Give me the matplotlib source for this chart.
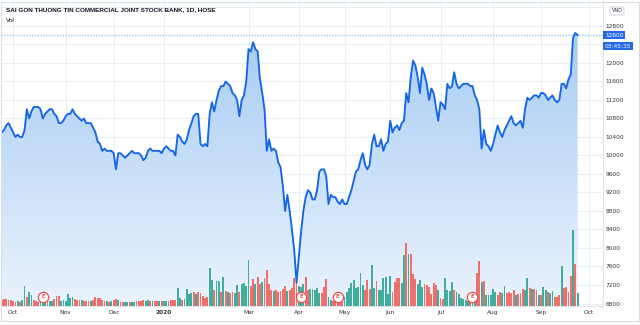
import numpy as np
import pandas as pd
import matplotlib
matplotlib.use('Agg')
import matplotlib.pyplot as plt
import matplotlib.transforms as mtrans
from matplotlib.patches import Polygon, Rectangle
from matplotlib.colors import LinearSegmentedColormap

title = 'SAI GON THUONG TIN COMMERCIAL JOINT STOCK BANK, 1D, HOSE'
first_day = '2019-09-24'
axis_end = '2020-10-01'
holidays = ['2020-01-01', '2020-01-23', '2020-01-24', '2020-01-27', '2020-01-28',
            '2020-01-29', '2020-04-02', '2020-04-30', '2020-05-01', '2020-09-02']
hidden_months = ['2020-02']
hidden_levels = [12400, 13200]   # covered by the price / currency boxes
earn_dates = ['2019-10-18', '2020-04-03', '2020-04-27', '2020-07-21']
clock = '03:45:35'

# daily close, VND
price = [
    10500, 10550, 10650, 10700, 10600, 10500, 10400, 10450, 10400, 10400,
    10550, 11000, 10800, 10950, 11050, 11050, 11050, 11000, 10800, 10900,
    10950, 11000, 11000, 10900, 10850, 10700, 10700, 10750, 10850, 10900,
    10900, 11000, 10900, 10850, 10800, 10750, 10800, 10700, 10700, 10700,
    10600, 10500, 10300, 10250, 10100, 10150, 10100, 10100, 10100, 10050,
    9700, 10050, 10050, 10000, 9950, 10000, 10050, 10100, 10050, 10050,
    10050, 10000, 9900, 9950, 10100, 10150, 10100, 10100, 10100, 10100,
    10050, 10150, 10200, 10150, 10100, 10100, 10000, 10450, 10400, 10300,
    10250, 10350, 10550, 10700, 10850, 10900, 10900, 10250, 10200, 10250,
    10200, 10900, 11150, 10950, 11200, 11400, 11500, 11500, 11600, 11550,
    11500, 11350, 11300, 11200, 10850, 11200, 11300, 11600, 12300, 12250,
    12450, 12300, 12250, 11650, 11350, 11000, 10100, 10350, 10100, 10150,
    10100, 9850, 9750, 9350, 8800, 9150, 8800, 8400, 7950, 7250,
    7800, 8350, 8800, 9100, 9250, 9200, 9050, 9050, 9250, 9650,
    9700, 9700, 9550, 8950, 9150, 9100, 9100, 9000, 8950, 9050,
    8950, 8950, 9100, 9250, 9450, 9650, 9700, 9900, 10050, 9800,
    9700, 9800, 10250, 10450, 10200, 10200, 10350, 10100, 10250, 10300,
    10750, 10500, 10600, 10650, 10550, 10700, 10750, 11350, 11150, 11700,
    12050, 11950, 11700, 11350, 11900, 11750, 11550, 11200, 11450, 11350,
    11050, 10750, 11150, 11100, 11000, 11550, 11450, 11500, 11800, 11550,
    11450, 11500, 11550, 11550, 11550, 11500, 11500, 11300, 11200, 11000,
    10150, 10550, 10250, 10200, 10100, 10250, 10450, 10650, 10500, 10400,
    10550, 10650, 10750, 10850, 10700, 10650, 10700, 10750, 10600, 11000,
    11250, 11200, 11250, 11300, 11300, 11250, 11350, 11350, 11300, 11200,
    11250, 11300, 11200, 11150, 11200, 11550, 11550, 11450, 11650, 11750,
    12550, 12650, 12600,
]

# volume, million shares
vol = [
    6, 7, 7, 6, 6, 5, 4, 5, 4, 6,
    20, 9, 14, 11, 6, 5, 4, 4, 5, 4,
    4, 5, 5, 7, 10, 10, 5, 6, 5, 12,
    8, 9, 7, 6, 6, 6, 5, 5, 5, 5,
    6, 9, 8, 8, 6, 5, 5, 4, 5, 6,
    7, 6, 4, 4, 4, 4, 4, 4, 4, 5,
    5, 5, 6, 5, 6, 5, 5, 5, 5, 5,
    5, 5, 5, 5, 6, 6, 6, 18, 8, 6,
    7, 17, 12, 13, 14, 12, 14, 13, 10, 8,
    9, 38, 26, 16, 25, 25, 14, 29, 15, 14,
    13, 14, 13, 21, 14, 22, 23, 20, 46, 20,
    27, 22, 29, 22, 24, 28, 36, 22, 16, 15,
    16, 14, 15, 17, 20, 15, 16, 18, 28, 25,
    20, 19, 22, 29, 16, 17, 17, 16, 18, 13,
    13, 19, 27, 9, 6, 5, 5, 6, 7, 8,
    9, 14, 18, 23, 26, 18, 19, 33, 21, 16,
    26, 17, 41, 18, 25, 16, 16, 28, 29, 12,
    30, 14, 24, 28, 28, 23, 51, 63, 52, 52,
    32, 27, 22, 26, 19, 22, 21, 19, 12, 23,
    21, 16, 8, 7, 28, 16, 15, 24, 16, 14,
    12, 8, 7, 6, 5, 5, 6, 7, 33, 45,
    24, 25, 11, 11, 11, 17, 14, 11, 14, 13,
    20, 13, 14, 13, 16, 11, 12, 13, 17, 16,
    28, 18, 17, 17, 16, 11, 11, 19, 16, 14,
    13, 15, 9, 9, 11, 40, 18, 19, 14, 30,
    76, 42, 13,
]

# u = close above open, d = close below open
vol_dir = ('dddddddudu' 'uduuddduuu' 'duuddduuuu' 'uudddudddu' 'ddddddudud'
           'dudduuduud' 'ddduududdu' 'duudddduud' 'uuuududddd' 'duuduududu'
           'dduuduuuud' 'dudduddddu' 'dddddudddd' 'uuudduuuuu' 'ddduuddddd'
           'uuuuuuuuud' 'dduuduuuuu' 'udddduudud' 'dduuuddddd' 'dudduuuudu'
           'uuuuuduudd' 'uduuuuuddu' 'uddddudddu' 'ududduduud' 'uudddudddd'
           'udu')

W, H = 640, 325
fig = plt.figure(figsize=(W / 100, H / 100), dpi=100)
fig.patch.set_facecolor('white')

days = pd.bdate_range(first_day, axis_end, freq='C', holidays=holidays)
x = np.arange(len(price))

rect = [1 / W, 1 - 306 / H, 602 / W, 305 / H]
ylo, yhi = 6746, 13340
xlo, xhi = -0.3, 263.1

ax = fig.add_axes(rect)
axv = fig.add_axes(rect, sharex=ax)
axl = fig.add_axes(rect, sharex=ax, sharey=ax)
for a in (axv, axl):
    a.axis('off')

# gradient area under the line
verts = np.column_stack([np.r_[x, x[-1], x[0]], np.r_[price, ylo, ylo]])
poly = Polygon(verts, closed=True, fc='none', ec='none')
ax.add_patch(poly)
cmap = LinearSegmentedColormap.from_list('area', ['#eaf3fd', '#a8ccf3'])
grad = np.linspace(0, 1, 256).reshape(-1, 1)
im = ax.imshow(grad, extent=[x[0], x[-1], ylo, max(price)], origin='lower',
               aspect='auto', cmap=cmap, zorder=1)
im.set_clip_path(poly)

# month ticks
ser = pd.Series(np.arange(len(days)), index=days)
firsts = ser.groupby([days.year, days.month]).first()
tick_pos, tick_lab = [], []
for (yy, mm), i in firsts.items():
    if i == 0 or '%d-%02d' % (yy, mm) in hidden_months:
        continue
    tick_pos.append(i)
    tick_lab.append(str(yy) if mm == 1 else days[i].strftime('%b'))

ax.set_xticks(tick_pos)
ax.set_xticklabels(tick_lab)
for t in ax.get_xticklabels():
    if t.get_text().isdigit():
        t.set_fontweight('bold')
levels = np.arange(6800, 13300, 400)
ax.set_yticks(levels)
ax.set_yticklabels(['' if v in hidden_levels else str(v) for v in levels])
ax.yaxis.tick_right()
ax.tick_params(axis='both', length=0, labelsize=4.2, colors='#30343c')
ax.tick_params(axis='x', pad=3.2)
ax.tick_params(axis='y', pad=2.0)
ax.grid(True, color='#eaeff6', linewidth=0.8)
ax.set_axisbelow(True)
for s in ('top', 'left'):
    ax.spines[s].set_visible(False)
for s in ('right', 'bottom'):
    ax.spines[s].set_color('#dfe3ea')
    ax.spines[s].set_linewidth(0.8)
ax.set_xlim(xlo, xhi)
ax.set_ylim(ylo, yhi)

# volume
colors = ['#41ad9d' if c == 'u' else '#f06f6b' for c in vol_dir]
axv.bar(x, vol, width=0.78, color=colors, linewidth=0)
axv.set_ylim(0, 305)
axv.set_xlim(xlo, xhi)

# price line and last price line
axl.plot(x, price, color='#1466e6', linewidth=1.35, solid_joinstyle='round', zorder=3)
axl.axhline(price[-1], color='#9fc8f3', linewidth=1.0, linestyle=(0, (1, 1)), zorder=2)
axl.set_xlim(xlo, xhi)
axl.set_ylim(ylo, yhi)

# earnings markers
bt = mtrans.blended_transform_factory(axl.transData, axl.transAxes)
ex = [days.get_loc(pd.Timestamp(d)) for d in earn_dates]
axl.scatter(ex, [0.03] * len(ex), s=55, marker='o', facecolor='white',
            edgecolor='#ef4f4a', linewidth=0.9, transform=bt, zorder=5, clip_on=False)
for i in ex:
    axl.text(i, 0.03, 'E', transform=bt, ha='center', va='center', fontsize=3.6,
             color='#ef4f4a', fontweight='bold', zorder=6)

# price box and countdown
pt = mtrans.blended_transform_factory(axl.transAxes, axl.transData)
box = dict(boxstyle='square,pad=0.28', fc='#2469e8', ec='none')
axl.annotate('%d' % price[-1], xy=(1.0, price[-1]), xycoords=pt, xytext=(1.5, 0),
             textcoords='offset points', ha='left', va='center', fontsize=4.2,
             color='white', bbox=box, annotation_clip=False)
axl.annotate(clock, xy=(1.0, price[-1]), xycoords=pt, xytext=(1.5, -8),
             textcoords='offset points', ha='left', va='center', fontsize=4.2,
             color='white', bbox=box, annotation_clip=False)

fig.text(617 / W, 1 - 11 / H, 'VND', fontsize=3.6, ha='center', va='center', color='#30343c',
         bbox=dict(boxstyle='round,pad=0.3', fc='white', ec='#c8ccd4', lw=0.6))

fig.text(6 / W, 1 - 10 / H, title, fontsize=4.6, fontweight='bold', va='center',
         color='#131722', family='Liberation Sans')
fig.text(6 / W, 1 - 21 / H, 'Vol', fontsize=4.6, va='center', color='#131722',
         family='Liberation Sans')

fig.add_artist(Rectangle((1 / W, 4 / H), 637.5 / W, 319 / H, transform=fig.transFigure,
                         fill=False, ec='#d8dce3', lw=0.8))

fig.savefig('out.png', dpi=100)
